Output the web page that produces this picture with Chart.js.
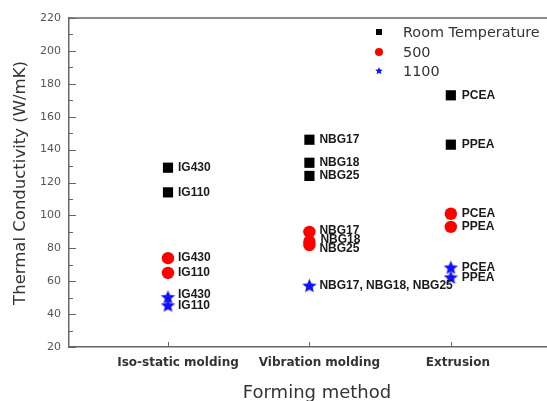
<!DOCTYPE html>
<html>
<head>
<meta charset="utf-8">
<script src="https://cdn.jsdelivr.net/npm/chart.js@4.4.1/dist/chart.umd.min.js"></script>
<style>
  html, body { margin: 0; padding: 0; background: #fff; }
  #wrap { width: 547px; height: 401px; }
</style>
</head>
<body>
<div id="wrap"><canvas id="chart"></canvas></div>
<script>
// data
categories = ['Iso-static molding', 'Vibration molding', 'Extrusion']
seriesNames = ['Room Temperature', '500', '1100']

roomValues = [[129, 114], [146, 132, 124], [173, 143]]
roomLabels = [['IG430', 'IG110'], ['NBG17', 'NBG18', 'NBG25'], ['PCEA', 'PPEA']]

t500Values = [[74, 65], [90, 84, 82], [101, 93]]
t500Labels = [['IG430', 'IG110'], ['NBG17', 'NBG18', 'NBG25'], ['PCEA', 'PPEA']]

t1100Values = [[50, 45], [57], [68, 62]]
t1100Labels = [['IG430', 'IG110'], ['NBG17, NBG18, NBG25'], ['PCEA', 'PPEA']]

yTicks = [20, 40, 60, 80, 100, 120, 140, 160, 180, 200, 220]

function toPoints(values, labels) {
    var pts = []
    values.forEach((vals, i) => {
        vals.forEach((v, j) => pts.push({x: i + 1, y: v, label: labels[i][j]}))
    })
    return pts
}

function makeStar(r, color) {
    var c = document.createElement('canvas')
    c.width = c.height = Math.ceil(r * 2 + 2)
    var g = c.getContext('2d')
    var cx = c.width / 2, cy = c.height / 2
    g.beginPath()
    for (var k = 0; k < 10; k++) {
        var rad = k % 2 ? r * 0.45 : r
        var a = -Math.PI / 2 + k * Math.PI / 5
        g.lineTo(cx + rad * Math.cos(a), cy + rad * Math.sin(a))
    }
    g.closePath()
    g.fillStyle = color
    g.fill()
    return c
}

var bigStar = makeStar(7.5, '#1010ff')
var smallStar = makeStar(4, '#1010ff')

// label nudges: [dx, dy] by "dataset:label"
var nudges = {
    '2:IG430': [10, -3],
    '1:NBG17': [10, -1],
    '1:NBG18': [11, -2],
    '1:NBG25': [10, 4]
}

var labelPlugin = {
    id: 'pointLabels',
    afterDatasetsDraw(chart) {
        var ctx = chart.ctx
        ctx.save()
        ctx.font = 'bold 12px "Liberation Sans", Arial, sans-serif'
        ctx.fillStyle = '#1a1a1a'
        ctx.textBaseline = 'middle'
        chart.data.datasets.forEach((ds, di) => {
            var meta = chart.getDatasetMeta(di)
            meta.data.forEach((el, i) => {
                var lab = ds.data[i].label
                var n = nudges[di + ':' + lab] || [10, 0]
                if (ds.data[i].x == 3) n = [n[0] + 1, n[1]]
                ctx.fillText(lab, el.x + n[0], el.y + n[1])
            })
        })
        ctx.restore()
    }
}

var framePlugin = {
    id: 'frame',
    afterDraw(chart) {
        var ctx = chart.ctx
        var a = chart.chartArea
        var ys = chart.scales.y, xs = chart.scales.x
        ctx.save()
        ctx.strokeStyle = '#666'
        ctx.lineWidth = 1.5
        ctx.beginPath()
        ctx.moveTo(a.left, a.top)
        ctx.lineTo(a.right, a.top)
        ctx.stroke()
        ctx.lineWidth = 1
        ctx.beginPath()
        for (var v = 20; v <= 220; v += 10) {
            var py = Math.round(ys.getPixelForValue(v)) + 0.5
            var len = v % 20 == 0 ? 7 : 4
            ctx.moveTo(a.left, py)
            ctx.lineTo(a.left + len, py)
        }
        for (var k = 1; k <= 3; k++) {
            var px = Math.round(xs.getPixelForValue(k)) + 0.5
            ctx.moveTo(px, a.bottom)
            ctx.lineTo(px, a.bottom - 5)
        }
        ctx.stroke()

        // category labels, sitting a little right of their ticks like the original
        ctx.fillStyle = '#333'
        ctx.textAlign = 'center'
        ctx.textBaseline = 'middle'
        ctx.font = 'bold 12px "DejaVu Sans", Verdana, sans-serif'
        categories.forEach((c, i) => {
            ctx.fillText(c, xs.getPixelForValue(i + 1) + (i == 2 ? 7 : 10), a.bottom + 16)
        })

        // axis titles
        ctx.font = '18px "DejaVu Sans", Verdana, sans-serif'
        ctx.fillText('Forming method', 317, 393)
        ctx.save()
        ctx.translate(21, 183)
        ctx.rotate(-Math.PI / 2)
        ctx.font = '16.5px "DejaVu Sans", Verdana, sans-serif'
        ctx.fillText('Thermal Conductivity (W/mK)', 0, 0)
        ctx.restore()

        // legend
        var rowY = [32, 52, 71]
        ctx.font = '14.4px "DejaVu Sans", Verdana, sans-serif'
        ctx.textAlign = 'left'
        chart.data.datasets.forEach((ds, di) => {
            var lx = 379, ly = rowY[di]
            if (di == 0) {
                ctx.fillStyle = '#000'
                ctx.fillRect(lx - 3, ly - 3, 6, 6)
            } else if (di == 1) {
                ctx.fillStyle = '#ff0000'
                ctx.beginPath()
                ctx.arc(lx, ly, 4, 0, Math.PI * 2)
                ctx.fill()
            } else {
                ctx.drawImage(smallStar, lx - smallStar.width / 2, ly - smallStar.height / 2)
            }
            ctx.fillStyle = '#333'
            ctx.fillText(seriesNames[di], 403, ly + 1)
        })
        ctx.restore()
    }
}

var ctx = document.getElementById('chart').getContext('2d')
new Chart(ctx, {
    type: 'scatter',
    data: {
        datasets: [
            {label: seriesNames[0], data: toPoints(roomValues, roomLabels),
             pointStyle: 'rect', pointRadius: 7.2, backgroundColor: '#000', borderWidth: 0},
            {label: seriesNames[1], data: toPoints(t500Values, t500Labels),
             pointStyle: 'circle', pointRadius: 6.2, backgroundColor: '#ff0000', borderWidth: 0},
            {label: seriesNames[2], data: toPoints(t1100Values, t1100Labels),
             pointStyle: bigStar, backgroundColor: '#1010ff', borderWidth: 0}
        ]
    },
    options: {
        responsive: true,
        maintainAspectRatio: false,
        animation: false,
        layout: {autoPadding: false, padding: {top: 18, right: 0, left: 0, bottom: 0}},
        plugins: {legend: {display: false}, tooltip: {enabled: false}},
        scales: {
            x: {
                type: 'linear', min: 0.3, max: 3.68,
                afterBuildTicks: s => { s.ticks = [1, 2, 3].map(v => ({value: v})) },
                afterFit: s => { s.height = 54 },
                grid: {display: false, drawTicks: false},
                border: {color: '#666', width: 1.5},
                ticks: {display: false}
            },
            y: {
                min: 20, max: 220,
                afterBuildTicks: s => { s.ticks = yTicks.map(v => ({value: v})) },
                afterFit: s => { s.width = 69 },
                grid: {display: false, drawTicks: false},
                border: {color: '#666', width: 1.5},
                ticks: {
                    padding: 8, color: '#555',
                    font: {family: '"DejaVu Sans", Verdana, sans-serif', size: 11}
                }
            }
        }
    },
    plugins: [labelPlugin, framePlugin]
})
</script>
</body>
</html>
